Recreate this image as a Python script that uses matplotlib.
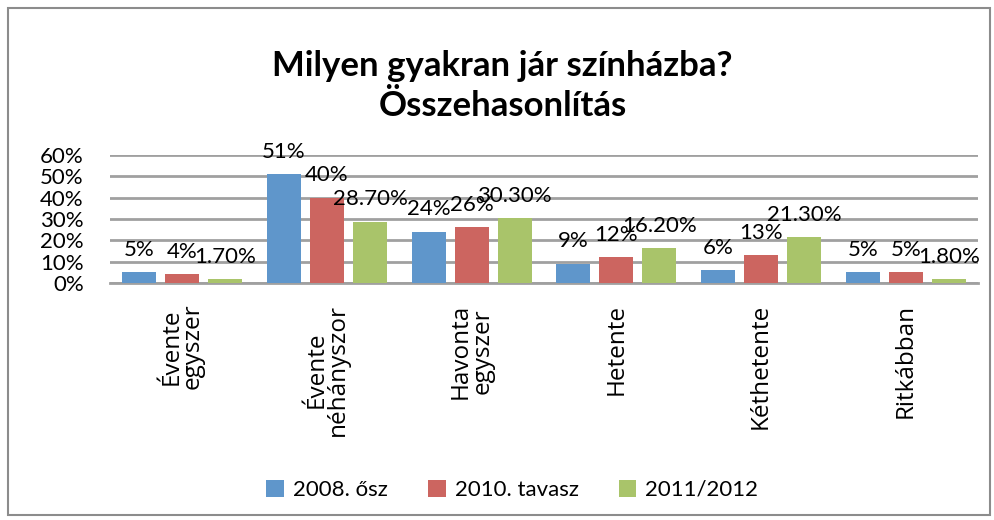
import numpy as np
import matplotlib
matplotlib.use("Agg")
import matplotlib.pyplot as plt
from matplotlib.patches import Rectangle

categories = ["Évente\negyszer", "Évente\nnéhányszor", "Havonta\negyszer", "Hetente", "Kéthetente", "Ritkábban"]
series_names = ["2008. ősz", "2010. tavasz", "2011/2012"]
v2008 = [5, 51, 24, 9, 6, 5]
v2010 = [4, 40, 26, 12, 13, 5]
v2011 = [1.7, 28.7, 30.3, 16.2, 21.3, 1.8]
labels2008 = ["5%", "51%", "24%", "9%", "6%", "5%"]
labels2010 = ["4%", "40%", "26%", "12%", "13%", "5%"]
labels2011 = ["1.70%", "28.70%", "30.30%", "16.20%", "21.30%", "1.80%"]
yticks = [0, 10, 20, 30, 40, 50, 60]

colors = ["#5F96CB", "#CC6560", "#A9C46A"]
plt.rcParams["font.family"] = ["Lato", "DejaVu Sans"]

fig = plt.figure(figsize=(9.95, 5.2), dpi=100)
ax = fig.add_axes([0.1106, 0.456, 0.8724, 0.246])

x = np.arange(len(categories))
width = 0.235
offset = 0.297
for i, (vals, labs) in enumerate([(v2008, labels2008), (v2010, labels2010), (v2011, labels2011)]):
    pos = x + (i - 1) * offset
    ax.bar(pos, vals, width, color=colors[i], label=series_names[i], zorder=3)
    for px, v, lab in zip(pos, vals, labs):
        ax.annotate(lab, (px, v), xytext=(0, 9), textcoords="offset points",
                    ha="center", va="bottom", fontsize=16, zorder=4)

ax.set_xlim(-0.5, len(categories) - 0.5)
ax.set_ylim(0, 60)
ax.set_yticks(yticks)
ax.set_yticklabels([f"{t}%" for t in yticks], fontsize=16)
ax.tick_params(axis="y", length=0, pad=19)
ax.set_xticks(x)
ax.set_xticklabels([])
# category labels drawn as rotated texts below the axis
for xi, cat in zip(x, categories):
    ax.annotate(cat, (xi, 0), xycoords=("data", "axes fraction"), xytext=(0, -15),
                textcoords="offset points", rotation=90, ha="center", va="top",
                fontsize=17.5, family="Open Sans", linespacing=0.85)
ax.tick_params(axis="x", length=0)
ax.grid(axis="y", color="#a0a0a0", linewidth=2, zorder=0)
for s in ["left", "right", "top"]:
    ax.spines[s].set_visible(False)
ax.spines["bottom"].set_color("#a0a0a0")
ax.spines["bottom"].set_linewidth(2)

fig.text(0.505, 0.835, "Milyen gyakran jár színházba?\nÖsszehasonlítás", ha="center", va="center",
         fontsize=25, fontweight="bold", linespacing=1.3)

fig.legend(loc="center", bbox_to_anchor=(0.515, 0.058), ncol=3, frameon=False, fontsize=16,
           handlelength=0.8, handleheight=0.8, handletextpad=0.4, columnspacing=1.8)

fig.patches.append(Rectangle((0.008, 0.01), 0.987, 0.975, transform=fig.transFigure,
                             fill=False, edgecolor="#8c8c8c", linewidth=1.5))

fig.savefig("out.png", dpi=100)
